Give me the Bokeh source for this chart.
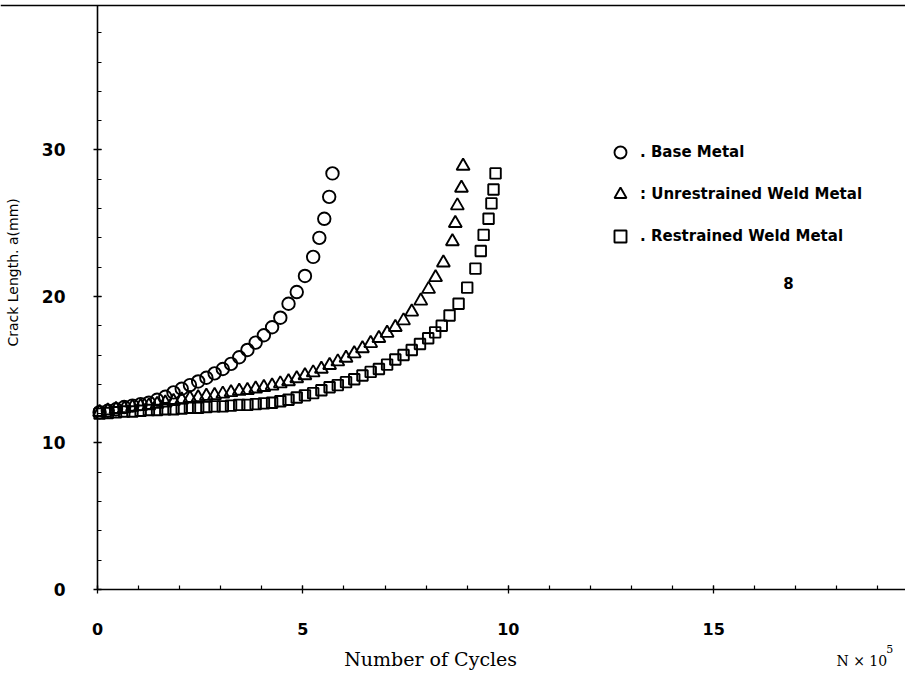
from bokeh.plotting import figure
from bokeh.models import (Range1d, SingleIntervalTicker, Label, Legend, LegendItem, Span)
from bokeh.embed import file_html
from bokeh.resources import INLINE

# Number of cycles (x 10^5) and crack length a (mm)
base_x = [0.05, 0.25, 0.45, 0.65, 0.85, 1.05, 1.25, 1.45, 1.65, 1.85, 2.05, 2.25, 2.45, 2.65, 2.85,
          3.05, 3.25, 3.45, 3.65, 3.85, 4.05, 4.25, 4.45, 4.65, 4.85, 5.05, 5.25, 5.40, 5.52, 5.64, 5.72]
base_y = [12.1, 12.2, 12.3, 12.45, 12.55, 12.65, 12.75, 12.95, 13.15, 13.45, 13.7, 13.95, 14.2, 14.45, 14.75,
          15.05, 15.4, 15.85, 16.35, 16.85, 17.35, 17.9, 18.55, 19.5, 20.3, 21.4, 22.7, 24.0, 25.3, 26.8, 28.4]

unres_x = [0.05, 0.25, 0.45, 0.65, 0.85, 1.05, 1.25, 1.45, 1.65, 1.85, 2.05, 2.25, 2.45, 2.65, 2.85,
           3.05, 3.25, 3.45, 3.65, 3.85, 4.05, 4.25, 4.45, 4.65, 4.85, 5.05, 5.25, 5.45, 5.65, 5.85,
           6.05, 6.25, 6.45, 6.65, 6.85, 7.05, 7.25, 7.45, 7.65, 7.87, 8.06, 8.23, 8.42, 8.64, 8.71,
           8.76, 8.86, 8.90]
unres_y = [12.1, 12.2, 12.3, 12.35, 12.45, 12.5, 12.55, 12.65, 12.75, 12.85, 12.95, 13.05, 13.1, 13.2, 13.25,
           13.35, 13.45, 13.55, 13.6, 13.7, 13.8, 13.9, 14.05, 14.2, 14.4, 14.6, 14.8, 15.05, 15.3, 15.55,
           15.8, 16.1, 16.45, 16.8, 17.15, 17.5, 17.9, 18.35, 18.95, 19.7, 20.5, 21.3, 22.3, 23.75, 25.0,
           26.2, 27.4, 28.9]

res_x = [0.05, 0.25, 0.45, 0.65, 0.85, 1.05, 1.25, 1.45, 1.65, 1.85, 2.05, 2.25, 2.45, 2.65, 2.85,
         3.05, 3.25, 3.45, 3.65, 3.85, 4.05, 4.25, 4.45, 4.65, 4.85, 5.05, 5.25, 5.45, 5.65, 5.85,
         6.05, 6.25, 6.45, 6.65, 6.85, 7.05, 7.25, 7.45, 7.65, 7.85, 8.05, 8.22, 8.38, 8.57, 8.79,
         9.00, 9.20, 9.33, 9.40, 9.52, 9.59, 9.64, 9.69]
res_y = [12.0, 12.05, 12.1, 12.15, 12.15, 12.2, 12.25, 12.25, 12.3, 12.3, 12.35, 12.4, 12.4, 12.45, 12.5,
         12.5, 12.55, 12.6, 12.6, 12.65, 12.7, 12.75, 12.85, 12.95, 13.1, 13.25, 13.4, 13.6, 13.8, 13.95,
         14.15, 14.35, 14.6, 14.85, 15.05, 15.35, 15.7, 16.0, 16.35, 16.75, 17.15, 17.55, 18.0, 18.7, 19.5,
         20.6, 21.9, 23.1, 24.2, 25.3, 26.35, 27.3, 28.4]

series_labels = [". Base Metal", ": Unrestrained Weld Metal", ". Restrained Weld Metal"]
x_title = "Number of Cycles"
y_title = "Crack Length. a(mm)"

X_START, X_END = -2.362, 19.67
Y_START, Y_END = -5.53, 40.2
Y_TOP = 39.86

p = figure(width=905, height=670, output_backend="svg", toolbar_location=None,
           x_range=Range1d(X_START, X_END), y_range=Range1d(Y_START, Y_END),
           min_border_left=0, min_border_right=0, min_border_top=0, min_border_bottom=0)
p.outline_line_color = None
p.xgrid.visible = False
p.ygrid.visible = False

for ax in (p.xaxis[0], p.yaxis[0]):
    ax.fixed_location = 0
    ax.axis_line_width = 1.6
    ax.axis_line_color = "black"
    ax.major_tick_in = 4
    ax.major_tick_out = 4
    ax.minor_tick_in = 4
    ax.minor_tick_out = 0
    ax.major_tick_line_width = 1.3
    ax.minor_tick_line_width = 1.2
    ax.major_label_text_font = "DejaVu Sans"
    ax.major_label_text_font_style = "bold"
    ax.major_label_text_color = "black"

p.xaxis.bounds = (0, X_END)
p.yaxis.bounds = (0, Y_TOP)
p.xaxis.ticker = SingleIntervalTicker(interval=5, num_minor_ticks=5)
p.yaxis.ticker = SingleIntervalTicker(interval=10, num_minor_ticks=5)
p.xaxis.major_label_text_font_size = "16px"
p.yaxis.major_label_text_font_size = "17px"
p.xaxis.major_label_standoff = 30
p.yaxis.major_label_standoff = 28

p.add_layout(Span(location=Y_TOP, dimension="width", line_color="black", line_width=1.6))

kw = dict(line_color="black", line_width=1.9, fill_color=None)
r1 = p.scatter(base_x, base_y, marker="circle", size=12.5, **kw)
r2 = p.scatter(unres_x, unres_y, marker="triangle", size=13, **kw)
r3 = p.scatter(res_x, res_y, marker="square", size=10.5, **kw)

legend = Legend(items=[LegendItem(label=series_labels[0], renderers=[r1]),
                       LegendItem(label=series_labels[1], renderers=[r2]),
                       LegendItem(label=series_labels[2], renderers=[r3])],
                location=(605, 419), glyph_width=30, glyph_height=30, spacing=12,
                label_standoff=5, padding=0, margin=0, border_line_color=None,
                background_fill_alpha=0, label_text_font="DejaVu Sans",
                label_text_font_style="bold", label_text_font_size="15px",
                label_text_color="black")
p.add_layout(legend)

p.add_layout(Label(x=8.11, y=-4.75, text=x_title, text_align="center", text_baseline="middle",
                   text_font="DejaVu Serif", text_font_size="19px", text_color="black"))
p.add_layout(Label(x=17.99, y=-4.85, text="N × 10", text_align="left", text_baseline="middle",
                   text_font="DejaVu Serif", text_font_size="14px", text_color="black"))
p.add_layout(Label(x=19.2, y=-4.05, text="5", text_align="left", text_baseline="middle",
                   text_font="DejaVu Serif", text_font_size="11px", text_color="black"))
p.add_layout(Label(x=-2.05, y=21.64, text=y_title, angle=1.5708, text_align="center",
                   text_baseline="middle", text_font="DejaVu Sans", text_font_size="14px",
                   text_color="black"))
p.add_layout(Label(x=16.82, y=20.89, text="8", text_align="center", text_baseline="middle",
                   text_font="DejaVu Sans", text_font_style="bold", text_font_size="15px",
                   text_color="black"))

open("out.html", "w").write(file_html(p, INLINE))
